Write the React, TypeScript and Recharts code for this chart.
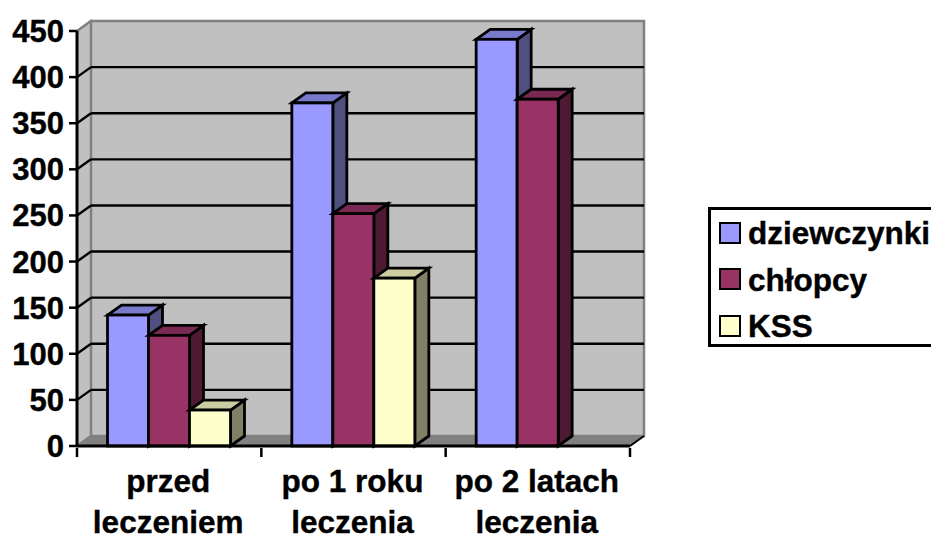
import * as React from 'react'
import { BarChart, Bar, XAxis, YAxis, CartesianGrid, Legend, usePlotArea } from 'recharts'

const categories = ['przed leczeniem', 'po 1 roku leczenia', 'po 2 latach leczenia']
const dziewczynki = [142, 372, 441]
const chlopcy = [120, 252, 376]
const kss = [39, 182, 0]
const yTicks = [0, 50, 100, 150, 200, 250, 300, 350, 400, 450]

const data = categories.map((name, i) => ({
  name,
  dziewczynki: dziewczynki[i],
  chlopcy: chlopcy[i],
  KSS: kss[i],
}))

const FONT = '"Liberation Sans", Arial, sans-serif'
const DX = 14
const DY = 10
const WALL = '#c0c0c0'
const EDGE = '#808080'

// side and top shades for each front colour
const shades: Record<string, { top: string; side: string }> = {
  '#9999ff': { top: '#7a7acc', side: '#4f4f80' },
  '#993366': { top: '#7a2952', side: '#4d1933' },
  '#ffffcc': { top: '#cccca3', side: '#808066' },
}

function Box3D(props: any) {
  const { x, y, width, height, fill } = props
  if (!height || height <= 0) return null
  const r = x + width
  const b = y + height
  const s = shades[fill]
  return (
    <g stroke="#000" strokeWidth={2.8} strokeLinejoin="miter">
      <polygon points={`${r},${y} ${r + DX},${y - DY} ${r + DX},${b - DY} ${r},${b}`} fill={s.side} />
      <polygon points={`${x},${y} ${x + DX},${y - DY} ${r + DX},${y - DY} ${r},${y}`} fill={s.top} />
      <rect x={x} y={y} width={width} height={height} fill={fill} />
    </g>
  )
}

// back wall, side wall and floor behind the bars
function Walls() {
  const area = usePlotArea()
  if (!area) return null
  const { x, y, width, height } = area
  const r = x + width
  const b = y + height
  return (
    <g>
      <polygon
        points={`${x},${y} ${x + DX},${y - DY} ${x + DX},${b - DY} ${x},${b}`}
        fill={WALL}
        stroke={EDGE}
        strokeWidth={2}
      />
      <rect x={x + DX} y={y - DY} width={width} height={height} fill={WALL} stroke={EDGE} strokeWidth={2.5} />
      <polygon points={`${x},${b} ${x + DX},${b - DY} ${r + DX},${b - DY} ${r},${b}`} fill={EDGE} stroke={EDGE} />
      <line x1={r} y1={b} x2={r + DX} y2={b - DY} stroke="#000" strokeWidth={2} />
    </g>
  )
}

// gridline on the back wall plus its diagonal across the side wall
function GridLine(props: any) {
  const { x1, x2, y1, index } = props
  const isEdge = index === 0 || index === yTicks.length - 1
  const color = isEdge ? EDGE : '#000'
  return (
    <g stroke={color} strokeWidth={2.4}>
      {!isEdge && <line x1={x1 + DX} x2={x2 + DX} y1={y1 - DY} y2={y1 - DY} />}
      <line x1={x1} x2={x1 + DX} y1={y1} y2={y1 - DY} />
    </g>
  )
}

function CategoryTick(props: any) {
  const { x, y, payload, index } = props
  const half = payload.offset ?? 0
  const words: string[] = payload.value.split(' ')
  const last = words.pop()
  return (
    <g>
      <line x1={x - half} x2={x - half} y1={y - 8} y2={y + 1} stroke="#000" strokeWidth={2.5} />
      {index === categories.length - 1 && (
        <line x1={x + half} x2={x + half} y1={y - 8} y2={y + 1} stroke="#000" strokeWidth={2.5} />
      )}
      <text
        x={x - 1}
        y={y + 36}
        textAnchor="middle"
        fontFamily={FONT}
        fontWeight="bold"
        fontSize={31.5}
        fill="#000"
        stroke="#000"
        strokeWidth={0.4}
      >
        <tspan x={x - 1}>{words.join(' ')}</tspan>
        <tspan x={x - 1} dy={40.5}>{last}</tspan>
      </text>
    </g>
  )
}

function LegendBox({ payload }: any) {
  return (
    <div
      style={{
        width: 240,
        height: 140,
        boxSizing: 'border-box',
        border: '3px solid #000',
        background: '#fff',
        fontFamily: FONT,
        fontWeight: 'bold',
        fontSize: 31.5,
        color: '#000',
        paddingLeft: 8,
        WebkitTextStroke: '0.4px #000',
      }}
    >
      {(payload || []).map((item: any) => (
        <div key={item.value} style={{ display: 'flex', alignItems: 'center', height: 46.5, lineHeight: '46px' }}>
          <span
            style={{
              width: 22,
              height: 22,
              boxSizing: 'border-box',
              border: '2.5px solid #000',
              background: item.color,
              marginRight: 7,
              marginTop: -1,
              flex: 'none',
            }}
          />
          <span style={{ whiteSpace: 'nowrap' }}>{item.value}</span>
        </div>
      ))}
    </div>
  )
}

export default function App() {
  return (
    <div style={{ position: 'absolute', left: 0, top: 0, width: 931, height: 534, overflow: 'hidden', background: '#fff' }}>
      <BarChart
        width={931}
        height={534}
        data={data}
        barGap={0}
        barCategoryGap={30.5}
        margin={{ top: 31, right: 61, bottom: 0, left: 0 }}
      >
        <Walls />
        <CartesianGrid zIndex={1} vertical={false} horizontal={(p: any) => <GridLine key={p.index} {...p} />} />
        <YAxis
          width={77}
          domain={[0, 450]}
          ticks={yTicks}
          interval={0}
          tickSize={8}
          tickMargin={5}
          axisLine={{ stroke: '#000', strokeWidth: 3 }}
          tickLine={{ stroke: '#000', strokeWidth: 2.5 }}
          tick={{ fontFamily: FONT, fontWeight: 'bold', fontSize: 31, fill: '#000', stroke: '#000', strokeWidth: 0.4 }}
        />
        <XAxis
          dataKey="name"
          height={88}
          interval={0}
          tickLine={false}
          tickSize={8}
          axisLine={{ stroke: '#000', strokeWidth: 3 }}
          tick={<CategoryTick />}
        />
        <Bar dataKey="dziewczynki" fill="#9999ff" shape={<Box3D />} isAnimationActive={false} />
        <Bar dataKey="chlopcy" name="chłopcy" fill="#993366" shape={<Box3D />} isAnimationActive={false} />
        <Bar dataKey="KSS" fill="#ffffcc" shape={<Box3D />} isAnimationActive={false} />
        <Legend
          layout="vertical"
          align="right"
          verticalAlign="middle"
          itemSorter={null}
          content={<LegendBox />}
          wrapperStyle={{ position: 'absolute', left: 708, top: 207, width: 240, bottom: 'auto', right: 'auto' }}
        />
      </BarChart>
    </div>
  )
}
